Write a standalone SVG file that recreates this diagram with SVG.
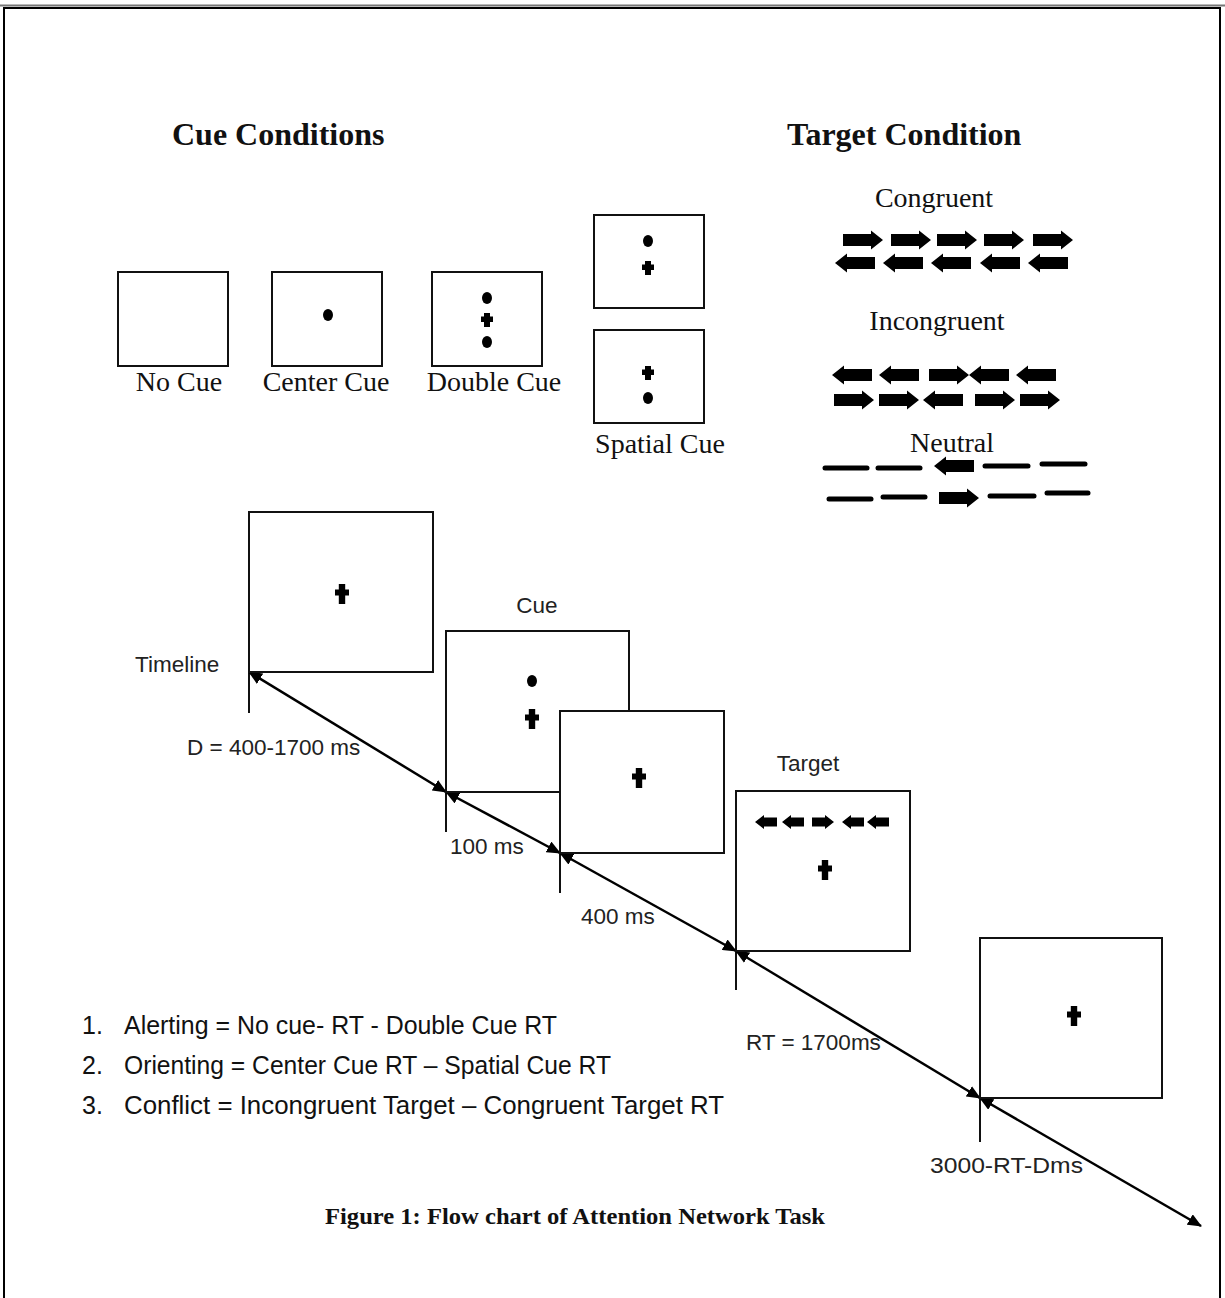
<svg xmlns="http://www.w3.org/2000/svg" xmlns:xlink="http://www.w3.org/1999/xlink" width="1225" height="1298" viewBox="0 0 1225 1298">
<style>
.box{fill:#fff;stroke:#111;stroke-width:2}
.tick{stroke:#111;stroke-width:2;fill:none}
.tl{stroke:#000;stroke-width:2.5;fill:none;marker-start:url(#ah);marker-end:url(#ah)}
.ser{font-family:"Liberation Serif","Times New Roman",serif;fill:#111}
.ttl{font-family:"Liberation Serif","Times New Roman",serif;font-weight:bold;font-size:32px;fill:#111}
.lab{font-family:"Liberation Serif","Times New Roman",serif;font-size:28px;fill:#111}
.sans{font-family:"Liberation Sans",Arial,sans-serif;font-size:22.5px;fill:#222}
.list{font-family:"Liberation Sans",Arial,sans-serif;font-size:25px;fill:#111}
.dash{stroke:#000;stroke-width:5;stroke-linecap:round}
.blk{fill:#000}
</style>
<defs>
<marker id="ah" viewBox="0 0 14 12" refX="13" refY="6" markerWidth="14" markerHeight="12" markerUnits="userSpaceOnUse" orient="auto-start-reverse">
<path d="M0,0 L14,6 L0,12 Z" fill="#000"/>
</marker>
<path id="ar" class="blk" d="M0,-6 H28 V-9.5 L40,0 L28,9.5 V6 H0 Z"/>
<path id="al" class="blk" d="M0,0 L12,-9.5 V-6 H40 V6 H12 V9.5 Z"/>
<path id="sar" class="blk" d="M0,-4.5 H13 V-7 L22,0 L13,7 V4.5 H0 Z"/>
<path id="sal" class="blk" d="M0,0 L9,-7 V-4.5 H22 V4.5 H9 V7 Z"/>
<path id="cs" class="blk" d="M-3,-7 H3 V-3.5 H6 V2 H3 V7 H-3 V2 H-6 V-3.5 H-3 Z"/>
<path id="cl" class="blk" d="M-3.2,-10 H3.2 V-4.5 H7 V1.5 H3.2 V10 H-3.2 V1.5 H-7 V-4.5 H-3.2 Z"/>
<ellipse id="dot" class="blk" cx="0" cy="0" rx="5" ry="6"/>
</defs>
<rect width="1225" height="1298" fill="#fff"/>
<g id="frame">
<line x1="0" y1="5.5" x2="1225" y2="5.5" stroke="#777" stroke-width="2"/>
<path d="M4,1298 V8 H1220 V1298" fill="none" stroke="#000" stroke-width="2"/>
</g>
<g id="titles">
<text class="ttl" x="172" y="145">Cue Conditions</text>
<text class="ttl" x="787" y="145">Target Condition</text>
</g>
<g id="no-cue">
<rect class="box" x="118" y="272" width="110" height="94"/>
<text class="lab" x="179" y="391" text-anchor="middle">No Cue</text>
</g>
<g id="center-cue">
<rect class="box" x="272" y="272" width="110" height="94"/>
<use xlink:href="#dot" x="328" y="315"/>
<text class="lab" x="326" y="391" text-anchor="middle">Center Cue</text>
</g>
<g id="double-cue">
<rect class="box" x="432" y="272" width="110" height="94"/>
<use xlink:href="#dot" x="487" y="298"/>
<use xlink:href="#cs" x="487" y="320"/>
<use xlink:href="#dot" x="487" y="342"/>
<text class="lab" x="494" y="391" text-anchor="middle">Double Cue</text>
</g>
<g id="spatial-cue">
<rect class="box" x="594" y="215" width="110" height="93"/>
<use xlink:href="#dot" x="648" y="241"/>
<use xlink:href="#cs" x="648" y="268"/>
<rect class="box" x="594" y="330" width="110" height="93"/>
<use xlink:href="#cs" x="648" y="373"/>
<use xlink:href="#dot" x="648" y="398"/>
<text class="lab" x="660" y="453" text-anchor="middle">Spatial Cue</text>
</g>
<g id="congruent">
<text class="lab" x="934" y="207" text-anchor="middle">Congruent</text>
<use xlink:href="#ar" x="843" y="240"/>
<use xlink:href="#ar" x="891" y="240"/>
<use xlink:href="#ar" x="937" y="240"/>
<use xlink:href="#ar" x="984" y="240"/>
<use xlink:href="#ar" x="1033" y="240"/>
<use xlink:href="#al" x="835" y="263"/>
<use xlink:href="#al" x="883" y="263"/>
<use xlink:href="#al" x="931" y="263"/>
<use xlink:href="#al" x="980" y="263"/>
<use xlink:href="#al" x="1028" y="263"/>
</g>
<g id="incongruent">
<text class="lab" x="937" y="330" text-anchor="middle">Incongruent</text>
<use xlink:href="#al" x="832" y="375"/>
<use xlink:href="#al" x="879" y="375"/>
<use xlink:href="#ar" x="929" y="375"/>
<use xlink:href="#al" x="969" y="375"/>
<use xlink:href="#al" x="1016" y="375"/>
<use xlink:href="#ar" x="834" y="400"/>
<use xlink:href="#ar" x="879" y="400"/>
<use xlink:href="#al" x="923" y="400"/>
<use xlink:href="#ar" x="975" y="400"/>
<use xlink:href="#ar" x="1020" y="400"/>
</g>
<g id="neutral">
<text class="lab" x="952" y="452" text-anchor="middle">Neutral</text>
<line class="dash" x1="825" y1="468" x2="867" y2="468"/>
<line class="dash" x1="878" y1="468" x2="920" y2="468"/>
<use xlink:href="#al" x="934" y="466"/>
<line class="dash" x1="985" y1="466" x2="1028" y2="466"/>
<line class="dash" x1="1042" y1="464" x2="1085" y2="464"/>
<line class="dash" x1="829" y1="499" x2="871" y2="499"/>
<line class="dash" x1="883" y1="497" x2="925" y2="497"/>
<use xlink:href="#ar" x="939" y="498"/>
<line class="dash" x1="990" y1="496" x2="1034" y2="496"/>
<line class="dash" x1="1047" y1="493" x2="1088" y2="493"/>
</g>
<g id="connectors">
<line class="tick" x1="249" y1="672" x2="249" y2="713"/>
<line class="tick" x1="446" y1="792" x2="446" y2="832"/>
<line class="tick" x1="560" y1="853" x2="560" y2="893"/>
<line class="tick" x1="736" y1="951" x2="736" y2="990"/>
<line class="tick" x1="980" y1="1098" x2="980" y2="1142"/>
<line class="tl" x1="249" y1="672" x2="446" y2="792"/>
<line class="tl" x1="446" y1="792" x2="560" y2="853"/>
<line class="tl" x1="560" y1="853" x2="736" y2="951"/>
<line class="tl" x1="736" y1="951" x2="980" y2="1098"/>
<line class="tl" x1="980" y1="1098" x2="1201" y2="1226"/>
</g>
<g id="fixation">
<rect class="box" x="249" y="512" width="184" height="160"/>
<use xlink:href="#cl" x="342" y="594"/>
<text class="sans" x="135" y="672">Timeline</text>
</g>
<g id="cue-screen">
<rect class="box" x="446" y="631" width="183" height="161"/>
<use xlink:href="#dot" x="532" y="681"/>
<use xlink:href="#cl" x="532" y="719"/>
<text class="sans" x="537" y="613" text-anchor="middle">Cue</text>
</g>
<g id="interval-screen">
<rect class="box" x="560" y="711" width="164" height="142"/>
<use xlink:href="#cl" x="639" y="778"/>
</g>
<g id="target-screen">
<rect class="box" x="736" y="791" width="174" height="160"/>
<use xlink:href="#sal" x="755" y="822"/>
<use xlink:href="#sal" x="782" y="822"/>
<use xlink:href="#sar" x="812" y="822"/>
<use xlink:href="#sal" x="842" y="822"/>
<use xlink:href="#sal" x="867" y="822"/>
<use xlink:href="#cl" x="825" y="870"/>
<text class="sans" x="808" y="771" text-anchor="middle">Target</text>
</g>
<g id="end-screen">
<rect class="box" x="980" y="938" width="182" height="160"/>
<use xlink:href="#cl" x="1074" y="1016"/>
</g>
<g id="timeline-labels">
<text class="sans" x="187" y="755">D = 400-1700 ms</text>
<text class="sans" x="450" y="854">100 ms</text>
<text class="sans" x="581" y="924">400 ms</text>
<text class="sans" x="746" y="1050">RT = 1700ms</text>
<text class="sans" x="930" y="1173" textLength="153" lengthAdjust="spacingAndGlyphs">3000-RT-Dms</text>
</g>
<g id="formulas">
<text class="list" x="82" y="1034">1.</text>
<text class="list" x="124" y="1034" textLength="433" lengthAdjust="spacingAndGlyphs">Alerting = No cue- RT - Double Cue RT</text>
<text class="list" x="82" y="1074">2.</text>
<text class="list" x="124" y="1074" textLength="487" lengthAdjust="spacingAndGlyphs">Orienting = Center Cue RT – Spatial Cue RT</text>
<text class="list" x="82" y="1114">3.</text>
<text class="list" x="124" y="1114" textLength="600" lengthAdjust="spacingAndGlyphs">Conflict = Incongruent Target – Congruent Target RT</text>
</g>
<g id="caption">
<text class="ser" x="325" y="1224" font-size="24" font-weight="bold" textLength="500" lengthAdjust="spacingAndGlyphs">Figure 1: Flow chart of Attention Network Task</text>
</g>
</svg>
